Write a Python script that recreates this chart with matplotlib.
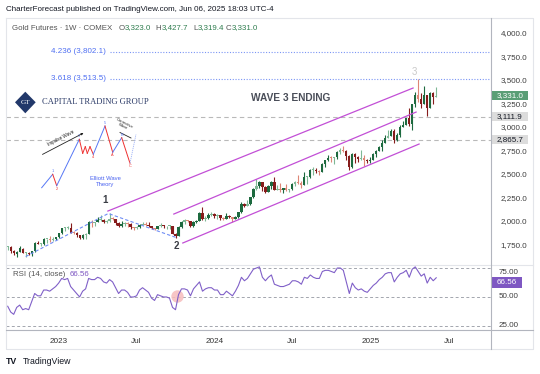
import matplotlib
matplotlib.use("Agg")
import matplotlib.pyplot as plt
import matplotlib.dates as mdates
import matplotlib.transforms as mtransforms
from matplotlib.patches import Polygon, Rectangle
import pandas as pd

plt.rcParams['font.family'] = ['Liberation Sans', 'DejaVu Sans']

# weekly gold futures candles, Sep 2022 .. Jun 2025
weeks = pd.date_range("2022-09-05", periods=144, freq="7D")
opens = [1722, 1728, 1683, 1650, 1675, 1705, 1656, 1656, 1645, 1680,
         1770, 1754, 1755, 1809, 1810, 1800, 1805, 1826, 1869, 1921,
         1928, 1930, 1876, 1874, 1850, 1817, 1856, 1867, 1989, 1983,
         1986, 2011, 2015, 1990, 1999, 2025, 2020, 1982, 1947, 1970,
         1977, 1972, 1931, 1929, 1933, 1960, 1962, 1960, 1944, 1923,
         1915, 1943, 1953, 1942, 1945, 1945, 1866, 1845, 1941, 1994,
         2006, 1999, 1943, 1985, 2003, 2090, 2020, 2035, 2068, 2072,
         2052, 2060, 2029, 2026, 2054, 2038, 2024, 2046, 2096, 2186,
         2161, 2179, 2254, 2345, 2374, 2413, 2357, 2311, 2375, 2420,
         2335, 2345, 2325, 2349, 2332, 2339, 2398, 2411, 2400, 2386,
         2470, 2470, 2540, 2546, 2527, 2524, 2611, 2647, 2668, 2667,
         2676, 2736, 2755, 2749, 2694, 2570, 2712, 2681, 2657, 2667,
         2646, 2634, 2654, 2716, 2748, 2791, 2835, 2887, 2900, 2954,
         2858, 2915, 3001, 3025, 3097, 3037, 3245, 3346, 3299, 3245,
         3343, 3200, 3365, 3323]
highs = [1735, 1735, 1690, 1680, 1730, 1715, 1666, 1675, 1682, 1775,
         1789, 1763, 1815, 1813, 1836, 1830, 1835, 1871, 1922, 1937,
         1950, 1975, 1895, 1885, 1855, 1860, 1870, 1997, 2014, 1990,
         2040, 2063, 2023, 2010, 2085, 2048, 2025, 1990, 1998, 1985,
         1985, 1980, 1935, 1945, 1968, 1990, 1985, 1985, 1950, 1930,
         1950, 1975, 1955, 1950, 1960, 1950, 1870, 1945, 1997, 2019,
         2010, 2000, 1995, 2010, 2095, 2152, 2055, 2080, 2095, 2080,
         2070, 2065, 2045, 2080, 2065, 2045, 2050, 2100, 2200, 2190,
         2225, 2260, 2350, 2450, 2430, 2415, 2375, 2385, 2425, 2470,
         2380, 2400, 2350, 2390, 2345, 2405, 2425, 2485, 2430, 2525,
         2475, 2550, 2570, 2560, 2540, 2615, 2650, 2700, 2690, 2685,
         2740, 2775, 2802, 2760, 2700, 2720, 2720, 2690, 2760, 2700,
         2660, 2680, 2725, 2760, 2800, 2860, 2910, 2970, 2975, 2975,
         2935, 3017, 3065, 3100, 3200, 3250, 3370, 3510, 3360, 3440,
         3345, 3370, 3370, 3427.7]
lows = [1690, 1660, 1643, 1622, 1670, 1655, 1622, 1640, 1631, 1670,
        1751, 1730, 1740, 1770, 1775, 1785, 1800, 1822, 1865, 1897,
        1915, 1870, 1860, 1834, 1812, 1812, 1810, 1860, 1935, 1945,
        1985, 1995, 1975, 1975, 1985, 2010, 1955, 1935, 1940, 1942,
        1935, 1910, 1900, 1915, 1930, 1958, 1945, 1935, 1920, 1902,
        1910, 1938, 1930, 1920, 1915, 1860, 1823, 1841, 1930, 1970,
        1985, 1940, 1935, 1980, 2000, 2010, 1995, 2020, 2055, 2035,
        2025, 2010, 2015, 2025, 2030, 1985, 2020, 2035, 2090, 2150,
        2155, 2175, 2250, 2330, 2350, 2320, 2300, 2305, 2345, 2325,
        2330, 2310, 2300, 2320, 2310, 2330, 2375, 2395, 2355, 2380,
        2390, 2455, 2490, 2515, 2490, 2520, 2570, 2640, 2630, 2605,
        2660, 2710, 2730, 2650, 2540, 2565, 2620, 2630, 2650, 2590,
        2620, 2620, 2645, 2680, 2740, 2750, 2830, 2885, 2900, 2835,
        2855, 2890, 2995, 3020, 3015, 2970, 3210, 3270, 3200, 3240,
        3120, 3200, 3250, 3319.4]
closes = [1728, 1683, 1655, 1672, 1709, 1656, 1656, 1645, 1681, 1770,
          1754, 1755, 1809, 1810, 1800, 1805, 1826, 1869, 1921, 1928,
          1930, 1876, 1874, 1850, 1817, 1856, 1867, 1989, 1983, 1986,
          2011, 2015, 1990, 1999, 2025, 2020, 1982, 1947, 1970, 1977,
          1972, 1931, 1929, 1933, 1960, 1962, 1960, 1944, 1923, 1915,
          1943, 1953, 1942, 1945, 1945, 1866, 1845, 1941, 1994, 2006,
          1999, 1943, 1985, 2003, 2090, 2020, 2035, 2068, 2072, 2052,
          2060, 2029, 2026, 2054, 2038, 2024, 2046, 2096, 2186, 2161,
          2179, 2254, 2345, 2374, 2413, 2357, 2311, 2375, 2420, 2335,
          2345, 2325, 2349, 2332, 2339, 2398, 2411, 2400, 2386, 2470,
          2470, 2540, 2546, 2527, 2524, 2611, 2647, 2668, 2667, 2676,
          2736, 2755, 2749, 2694, 2570, 2712, 2681, 2657, 2667, 2646,
          2634, 2654, 2716, 2748, 2791, 2835, 2887, 2900, 2954, 2858,
          2915, 3001, 3025, 3097, 3037, 3245, 3346, 3299, 3245, 3343,
          3200, 3365, 3315, 3331.0]
rsi_vals = [42, 37, 35, 41, 43, 39, 40, 39, 46, 53,
            51, 51, 56, 56, 55, 57, 59, 62, 66, 65,
            66, 59, 56, 53, 50, 55, 57, 66, 65, 65,
            67, 66, 63, 62, 65, 63, 58, 53, 56, 56,
            54, 50, 50, 51, 56, 58, 56, 54, 49, 47,
            52, 51, 50, 50, 49, 41, 39, 52, 57, 57,
            56, 51, 57, 60, 63, 55, 57, 58, 58, 56,
            56, 52, 52, 55, 53, 51, 55, 60, 67, 64,
            66, 70, 74, 75, 76, 67, 64, 67, 69, 61,
            60, 59, 59, 60, 61, 64, 64, 63, 61, 67,
            66, 69, 67, 66, 66, 72, 73, 73, 72, 71,
            75, 75, 73, 63, 53, 62, 58, 56, 57, 55,
            54, 57, 60, 62, 65, 67, 70, 71, 71, 63,
            67, 70, 71, 73, 67, 74, 76, 72, 68, 70,
            62, 67, 64, 66.56]

fib_levels = [("4.236", 3802.1), ("3.618", 3513.5)]
fib_start = "2023-05-01"
gray_levels = [3111.9, 2865.7]
last_close = 3331.0
last_rsi = 66.56
price_ticks = [1750, 2000, 2250, 2500, 2750, 3000, 3250, 3500, 3750, 4000]
rsi_levels = [75, 50, 25]

# parallel channel, (date, price) end points
channel = [(("2023-04-27", 2106), ("2025-04-09", 3415)),
           (("2023-09-28", 2074), ("2025-04-16", 3159)),
           (("2023-10-19", 1766), ("2025-04-23", 2819))]
wave_dates = ["2022-10-17", "2023-04-28", "2023-10-03"]
wave_prices = [1622, 2080, 1825]
wave_labels = [("1", "2023-04-21", 2223), ("2", "2023-10-03", 1734), ("3", "2025-04-11", 3585)]
marker_date, marker_rsi = "2023-10-05", 51

time_ticks = ["2023-01-01", "2023-07-01", "2024-01-01", "2024-07-01", "2025-01-01", "2025-07-01"]
time_labels = ["2023", "Jul", "2024", "Jul", "2025", "Jul"]

# little Elliott wave sketch, in its own 106 x 76 box
ew_x = [5.7, 16.7, 20.7, 43.3, 46.7, 49.3, 51.3, 54.0, 57.3, 69.0, 76.7, 85.7, 94.0, 100.0]
ew_y = [4.3, 17.7, 6.3, 52.7, 38.7, 45.3, 38.7, 45.3, 37.7, 66.0, 39.7, 54.3, 28.7, 57.7]
ew_seg = "BRBRRRRRBRBRL"
ew_names = {1: "1", 2: "2", 3: "3", 8: "4", 9: "5", 10: "A", 11: "B", 12: "C"}

W, H = 540, 374
GREEN_D, GREEN_L = "#1d6a3f", "#7fb895"
RED_D, RED_L = "#861c1c", "#dd8676"
CHAN = "#c24fd6"
BLUE = "#4f6ff2"
AXTXT = "#3d3d3d"
fig = plt.figure(figsize=(W / 100, H / 100), dpi=100)


def rect(x0, y0, x1, y1):
    return [x0 / W, 1 - y1 / H, (x1 - x0) / W, (y1 - y0) / H]


ax = fig.add_axes(rect(6, 18, 491, 265))
axr = fig.add_axes(rect(6, 265, 491, 330), sharex=ax)
for a in (ax, axr):
    for s in a.spines.values():
        s.set_visible(False)

d = lambda s: mdates.date2num(pd.Timestamp(s))
x = mdates.date2num(weeks)

colors = []
for o, h, l, c in zip(opens, highs, lows, closes):
    strong = abs(c - o) >= 0.3 * (h - l)
    if c >= o:
        colors.append(GREEN_D if strong else GREEN_L)
    else:
        colors.append(RED_D if strong else RED_L)
ax.vlines(x, lows, highs, colors=colors, lw=0.8, zorder=3)
ax.bar(x, [max(abs(c - o), 10) for o, c in zip(opens, closes)],
       bottom=[min(o, c) for o, c in zip(opens, closes)],
       width=5.2, color=colors, lw=0, zorder=3)

ax.set_xlim(d("2022-09-01"), d("2025-10-08"))
ax.set_ylim(1532, 4160)

# channel lines
for (d0, p0), (d1, p1) in channel:
    ax.plot([d(d0), d(d1)], [p0, p1], color=CHAN, lw=0.9, zorder=4)

# wave 1 / wave 2 dashed path
ax.plot([d(s) for s in wave_dates], wave_prices, color="#6f8df5", lw=0.8,
        ls=(0, (3, 2)), zorder=4)
for txt, ds, p in wave_labels:
    if txt == "3":
        ax.text(d(ds), p, txt, ha="center", va="center", fontsize=7, color="#c9c9c9")
    else:
        ax.text(d(ds), p, txt, ha="center", va="center", fontsize=7,
                fontweight="bold", color="#3a3d45")

# fib extension levels
for name, lvl in fib_levels:
    ax.hlines(lvl, d(fib_start), ax.get_xlim()[1], color="#7b95f5", lw=0.8,
              linestyles=(0, (1, 1.5)), zorder=2)
    ax.text(d("2023-04-22"), lvl, f"{name} ({lvl:,.1f})", ha="right", va="center",
            fontsize=5.8, color=BLUE)
for lvl in gray_levels:
    ax.axhline(lvl, color="#b9b9b9", lw=0.8, ls=(0, (4, 3)), zorder=2)

ax.text(d("2024-06-27"), 3308, "WAVE 3 ENDING", ha="center", va="center",
        fontsize=7.3, fontweight="bold", color="#4a4e59")

# price axis on the right
ax.set_yticks(price_ticks)
ax.set_yticklabels([f"{v:,.1f}" for v in price_ticks])
ax.tick_params(axis="y", length=0, pad=7, labelsize=5.8, labelcolor=AXTXT,
               left=False, labelleft=False, right=False, labelright=True)
ax.tick_params(axis="x", length=0, labelbottom=False)

blend = mtransforms.blended_transform_factory(ax.transAxes, ax.transData)
px_w = 1 / 485  # one pixel in axes fraction
tags = [(last_close, "#5a9e76", "white", 37), (gray_levels[0], "#dcdcdc", "#131722", 37),
        (gray_levels[1], "#dcdcdc", "#131722", 37)]
for val, fc, tc, wpx in tags:
    ax.add_patch(Rectangle((1.0, val - 48), wpx * px_w, 96, transform=blend,
                           facecolor=fc, edgecolor="none", clip_on=False, zorder=6))
    ax.text(1.0 + 19 * px_w, val, f"{val:,.1f}", transform=blend, ha="center",
            va="center", fontsize=5.8, color=tc, zorder=7, clip_on=False)

# RSI panel
axr.plot(x, rsi_vals, color="#8060c8", lw=0.8, zorder=3)
for lvl in rsi_levels:
    axr.axhline(lvl, color="#a3a6ae", lw=0.7, ls=(0, (3, 2.5)), zorder=1)
axr.scatter([d(marker_date)], [marker_rsi], s=80, color="#f6bcbc", alpha=0.85,
            lw=0, zorder=2)
axr.set_ylim(21.5, 77.6)
axr.set_yticks([])
rblend = mtransforms.blended_transform_factory(axr.transAxes, axr.transData)
for lvl, dy in zip(rsi_levels, [-4, 0, 0]):
    axr.annotate(f"{lvl:.2f}", xy=(1, lvl), xycoords=rblend, xytext=(8, dy),
                 textcoords="offset pixels", ha="left", va="center", fontsize=5.8,
                 color=AXTXT, annotation_clip=False)
axr.add_patch(Rectangle((1.0, last_rsi - 8.6), 31 * px_w, 9.5, transform=rblend,
                        facecolor="#7e57c2", edgecolor="none", clip_on=False, zorder=6))
axr.text(1.0 + 16 * px_w, last_rsi - 3.9, f"{last_rsi:.2f}", transform=rblend,
         ha="center", va="center", fontsize=5.8, color="white", zorder=7, clip_on=False)

axr.set_xticks([d(t) for t in time_ticks])
axr.set_xticklabels(time_labels)
axr.tick_params(axis="x", length=0, pad=6, labelsize=5.9, labelcolor="#333333")

# Elliott wave sketch
ins = fig.add_axes(rect(36, 116, 142, 192))
ins.set_xlim(0, 106)
ins.set_ylim(0, 76)
ins.axis("off")
seg_style = {"B": dict(color="#5677f5", lw=0.7), "R": dict(color="#ee3030", lw=0.7),
             "L": dict(color="#9fb3f7", lw=0.6, ls=(0, (1.5, 1)))}
for i, k in enumerate(ew_seg):
    ins.plot(ew_x[i:i + 2], ew_y[i:i + 2], **seg_style[k])
for i, nm in ew_names.items():
    peak = ew_y[i] > ew_y[i - 1]
    ins.text(ew_x[i], ew_y[i] + (3 if peak else -3), nm, ha="center", va="center",
             fontsize=2.8, color="#5677f5" if peak else "#ee3030")
ins.annotate("", xy=(50, 60.3), xytext=(4, 36.3),
             arrowprops=dict(arrowstyle="-|>", color="#222222", lw=0.6,
                             mutation_scale=3))
ins.text(25, 53.5, "Impulse Wave", rotation=27, ha="center", va="center",
         fontsize=3.3, color="#222222")
ins.plot([84, 95], [59.5, 54], color="#222222", lw=0.6)
ins.text(88, 67, "Corrective\nWave", rotation=-27, ha="center", va="center",
         fontsize=3.0, color="#222222", linespacing=1.0)
ins.text(69, 10.5, "Elliott Wave\nTheory", ha="center", va="center",
         fontsize=4.2, color="#4a63f0", linespacing=1.2)

# overlay for frame, header and branding (pixel coordinates)
ov = fig.add_axes([0, 0, 1, 1])
ov.set_xlim(0, W)
ov.set_ylim(H, 0)
ov.axis("off")
ov.patch.set_alpha(0)

ov.plot([6, 533, 533, 6, 6], [18, 18, 349, 349, 18], color="#e3e5ea", lw=0.8)
ov.plot([6, 533], [265, 265], color="#e3e5ea", lw=0.8)
ov.plot([6, 533], [330, 330], color="#b2b5be", lw=0.8)
ov.plot([491, 491], [18, 349], color="#b2b5be", lw=0.8)

ov.text(6.5, 9, "CharterForecast published on TradingView.com, Jun 06, 2025 18:03 UTC-4",
        ha="left", va="center", fontsize=5.8, color="#131722")
ov.text(12.3, 28, "Gold Futures \u00b7 1W \u00b7 COMEX", ha="left", va="center",
        fontsize=5.7, color="#555555")
ohlc = [("O", opens[-1], 118.3), ("H", highs[-1], 155.7), ("L", lows[-1], 193.7),
        ("C", closes[-1], 226)]
for letter, val, px in ohlc:
    t = ov.text(px, 28, letter, ha="left", va="center", fontsize=5.7, color="#555555")
    ov.annotate(f"{val:,.1f}", xy=(1, 0.5), xycoords=t, ha="left", va="center",
                fontsize=5.7, color="#2f7d4f")

ov.text(13, 275, "RSI (14, close)", ha="left", va="center", fontsize=5.7, color="#555555")
ov.text(70, 275, f"{last_rsi:.2f}", ha="left", va="center", fontsize=5.7, color="#7e57c2")

# company logo
ov.add_patch(Polygon([(15, 102.3), (25.3, 91.7), (35.7, 102.3), (25.3, 113.3)],
                     closed=True, facecolor="#22386a", edgecolor="none"))
ov.text(25.3, 102.5, "GT", ha="center", va="center", fontsize=5.2, color="white",
        family=["Liberation Serif", "DejaVu Serif"])
ov.text(42.3, 102.3, "CAPITAL TRADING GROUP", ha="left", va="center", fontsize=6.1,
        color="#2b3a67", family=["Liberation Serif", "DejaVu Serif"])

ov.text(6, 362, "TV", ha="left", va="center", fontsize=6.3, fontweight="heavy",
        color="#131722")
ov.text(22.5, 362, "TradingView", ha="left", va="center", fontsize=6.3, color="#131722")

fig.savefig("out.png", dpi=100)
